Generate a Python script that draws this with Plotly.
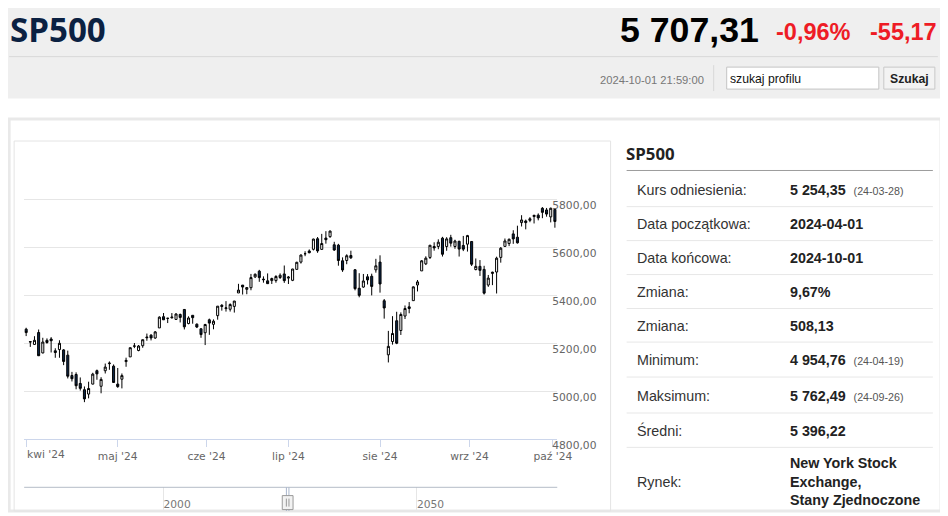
import numpy as np
import pandas as pd
import plotly.graph_objects as go

# --- dane: świece dzienne SP500 (kwi-paź 2024) ---
dates = [
    "2024-04-01", "2024-04-02", "2024-04-03", "2024-04-04", "2024-04-05", "2024-04-08", "2024-04-09",
    "2024-04-10", "2024-04-11", "2024-04-12", "2024-04-15", "2024-04-16", "2024-04-17", "2024-04-18",
    "2024-04-19", "2024-04-22", "2024-04-23", "2024-04-24", "2024-04-25", "2024-04-26", "2024-04-29",
    "2024-04-30", "2024-05-01", "2024-05-02", "2024-05-03", "2024-05-06", "2024-05-07", "2024-05-08",
    "2024-05-09", "2024-05-10", "2024-05-13", "2024-05-14", "2024-05-15", "2024-05-16", "2024-05-17",
    "2024-05-20", "2024-05-21", "2024-05-22", "2024-05-23", "2024-05-24", "2024-05-28", "2024-05-29",
    "2024-05-30", "2024-05-31", "2024-06-03", "2024-06-04", "2024-06-05", "2024-06-06", "2024-06-07",
    "2024-06-10", "2024-06-11", "2024-06-12", "2024-06-13", "2024-06-14", "2024-06-17", "2024-06-18",
    "2024-06-20", "2024-06-21", "2024-06-24", "2024-06-25", "2024-06-26", "2024-06-27", "2024-06-28",
    "2024-07-01", "2024-07-02", "2024-07-03", "2024-07-05", "2024-07-08", "2024-07-09", "2024-07-10",
    "2024-07-11", "2024-07-12", "2024-07-15", "2024-07-16", "2024-07-17", "2024-07-18", "2024-07-19",
    "2024-07-22", "2024-07-23", "2024-07-24", "2024-07-25", "2024-07-26", "2024-07-29", "2024-07-30",
    "2024-07-31", "2024-08-01", "2024-08-02", "2024-08-05", "2024-08-06", "2024-08-07", "2024-08-08",
    "2024-08-09", "2024-08-12", "2024-08-13", "2024-08-14", "2024-08-15", "2024-08-16", "2024-08-19",
    "2024-08-20", "2024-08-21", "2024-08-22", "2024-08-23", "2024-08-26", "2024-08-27", "2024-08-28",
    "2024-08-29", "2024-08-30", "2024-09-03", "2024-09-04", "2024-09-05", "2024-09-06", "2024-09-09",
    "2024-09-10", "2024-09-11", "2024-09-12", "2024-09-13", "2024-09-16", "2024-09-17", "2024-09-18",
    "2024-09-19", "2024-09-20", "2024-09-23", "2024-09-24", "2024-09-25", "2024-09-26", "2024-09-27",
    "2024-09-30", "2024-10-01 21:59:00",
]
opens = [
    5257.97, 5204.29, 5194.37, 5244.05, 5158.95, 5211.37, 5217.03, 5167.88, 5172.95, 5171.51,
    5149.67, 5064.59, 5068.97, 5031.52, 5005.44, 4987.33, 5028.85, 5084.86, 5019.88, 5084.65,
    5114.13, 5103.78, 5029.03, 5049.32, 5122.78, 5142.42, 5187.20, 5168.98, 5189.03, 5225.49,
    5233.08, 5221.10, 5263.26, 5310.07, 5303.10, 5305.35, 5298.69, 5319.28, 5340.26, 5281.45,
    5315.91, 5278.73, 5259.77, 5243.21, 5297.15, 5278.24, 5314.48, 5357.80, 5343.81, 5341.22,
    5353.00, 5409.13, 5441.93, 5424.08, 5431.11, 5476.15, 5499.99, 5466.77, 5459.58, 5460.73,
    5460.71, 5473.59, 5488.48, 5471.08, 5461.84, 5507.44, 5537.91, 5572.75, 5584.24, 5591.26,
    5635.21, 5590.76, 5638.16, 5644.09, 5610.07, 5608.56, 5543.37, 5544.54, 5565.30, 5505.84,
    5428.70, 5433.67, 5476.55, 5478.73, 5505.59, 5537.84, 5376.63, 5151.14, 5206.42, 5293.13,
    5252.57, 5312.78, 5351.18, 5376.98, 5442.51, 5501.13, 5530.50, 5557.23, 5602.88, 5603.09,
    5637.77, 5602.89, 5639.66, 5602.89, 5624.51, 5607.30, 5612.74, 5623.89, 5506.68, 5520.08,
    5507.33, 5442.07, 5490.51, 5496.42, 5557.48, 5603.34, 5615.21, 5655.51, 5641.68, 5702.63,
    5709.46, 5711.90, 5727.83, 5733.65, 5762.22, 5755.36, 5726.52, 5757.73,
]
highs = [
    5263.95, 5208.34, 5228.75, 5256.59, 5222.18, 5219.57, 5224.81, 5178.43, 5211.78, 5175.03,
    5168.43, 5079.84, 5077.96, 5056.66, 5019.02, 5038.84, 5076.12, 5089.48, 5057.75, 5114.62,
    5123.49, 5110.83, 5096.12, 5073.21, 5139.12, 5181.00, 5200.23, 5191.95, 5214.53, 5239.66,
    5237.26, 5250.37, 5311.76, 5325.49, 5305.45, 5325.32, 5324.32, 5323.18, 5341.88, 5311.65,
    5315.91, 5282.27, 5260.21, 5280.33, 5302.11, 5298.80, 5354.16, 5362.35, 5375.08, 5365.79,
    5375.95, 5447.25, 5441.93, 5432.39, 5488.50, 5490.38, 5505.53, 5478.31, 5490.66, 5472.88,
    5483.14, 5490.81, 5523.64, 5479.55, 5509.69, 5539.27, 5570.33, 5583.11, 5590.75, 5635.39,
    5642.45, 5655.56, 5666.94, 5669.67, 5622.49, 5614.05, 5557.50, 5570.36, 5585.34, 5508.04,
    5491.59, 5488.32, 5487.74, 5489.46, 5551.51, 5566.16, 5383.89, 5250.89, 5312.34, 5330.64,
    5328.03, 5356.89, 5371.20, 5436.50, 5463.22, 5546.23, 5561.98, 5608.30, 5620.51, 5632.68,
    5643.22, 5641.82, 5651.62, 5631.18, 5627.03, 5646.95, 5651.37, 5623.89, 5552.99, 5546.30,
    5522.47, 5484.20, 5497.91, 5560.41, 5600.71, 5636.27, 5636.05, 5670.81, 5689.75, 5733.57,
    5715.14, 5725.36, 5735.32, 5741.03, 5767.37, 5763.78, 5765.14, 5757.73,
]
lows = [
    5229.20, 5184.05, 5194.37, 5146.06, 5157.21, 5197.35, 5160.78, 5138.70, 5138.77, 5107.94,
    5052.47, 5039.83, 5007.25, 5001.89, 4953.56, 4969.40, 5027.96, 5047.02, 4990.58, 5073.14,
    5088.65, 5035.31, 5013.45, 5011.05, 5101.22, 5142.42, 5178.96, 5165.86, 5180.41, 5209.68,
    5211.16, 5217.98, 5263.26, 5296.19, 5283.59, 5302.40, 5297.87, 5286.01, 5256.93, 5278.39,
    5280.89, 5262.70, 5222.10, 5191.68, 5234.32, 5257.63, 5297.64, 5335.36, 5331.33, 5331.52,
    5327.25, 5409.13, 5402.51, 5403.75, 5420.40, 5471.32, 5455.56, 5452.03, 5447.59, 5446.56,
    5451.87, 5467.54, 5451.12, 5446.53, 5458.43, 5507.42, 5531.63, 5562.51, 5574.57, 5586.44,
    5576.53, 5590.44, 5614.75, 5639.02, 5584.81, 5522.81, 5497.04, 5529.04, 5550.90, 5419.98,
    5390.95, 5430.70, 5444.44, 5398.99, 5493.75, 5410.42, 5302.03, 5119.26, 5193.56, 5195.54,
    5233.85, 5300.42, 5324.37, 5376.98, 5415.45, 5501.13, 5525.50, 5550.74, 5585.50, 5591.57,
    5560.95, 5585.16, 5602.34, 5593.48, 5560.95, 5583.71, 5581.79, 5521.53, 5503.66, 5480.17,
    5402.62, 5434.49, 5441.72, 5406.96, 5535.50, 5601.65, 5604.53, 5614.05, 5615.08, 5686.42,
    5674.49, 5704.22, 5698.99, 5712.06, 5721.01, 5727.34, 5703.53, 5681.28,
]
closes = [
    5243.77, 5205.81, 5211.49, 5147.21, 5204.34, 5202.39, 5209.91, 5160.64, 5199.06, 5123.41,
    5061.82, 5051.41, 5022.21, 5011.12, 4967.23, 5010.60, 5070.55, 5071.63, 5048.42, 5099.96,
    5116.17, 5035.69, 5018.39, 5064.20, 5127.79, 5180.74, 5187.70, 5187.67, 5214.08, 5222.68,
    5221.42, 5246.68, 5308.15, 5297.10, 5303.27, 5308.13, 5321.41, 5307.01, 5267.84, 5304.72,
    5306.04, 5266.95, 5235.48, 5277.51, 5283.40, 5291.34, 5354.03, 5352.96, 5346.99, 5360.79,
    5375.32, 5421.03, 5433.74, 5431.60, 5473.23, 5487.03, 5473.17, 5464.62, 5447.87, 5469.30,
    5477.90, 5482.87, 5460.48, 5475.09, 5509.01, 5537.02, 5567.19, 5572.85, 5576.98, 5633.91,
    5584.54, 5615.35, 5631.22, 5667.20, 5588.27, 5544.59, 5505.00, 5564.41, 5555.74, 5427.13,
    5399.22, 5459.10, 5463.54, 5436.44, 5522.30, 5446.68, 5346.56, 5186.33, 5240.03, 5199.50,
    5319.31, 5344.16, 5344.39, 5434.43, 5455.21, 5543.22, 5554.25, 5608.25, 5597.12, 5620.85,
    5570.64, 5634.61, 5616.84, 5625.80, 5592.18, 5591.96, 5648.40, 5528.93, 5520.07, 5503.41,
    5408.42, 5471.05, 5495.52, 5554.13, 5595.76, 5626.02, 5633.09, 5634.58, 5618.26, 5713.64,
    5702.55, 5718.57, 5732.93, 5722.26, 5745.37, 5738.17, 5762.48, 5707.31,
]

month_starts = ["2024-04-01", "2024-05-01", "2024-06-01", "2024-07-01", "2024-08-01", "2024-09-01", "2024-10-01"]
month_labels = ["kwi '24", "maj '24", "cze '24", "lip '24", "sie '24", "wrz '24", "paź '24"]
y_ticks = [4800, 5000, 5200, 5400, 5600, 5800, 6000]
nav_years = [2000, 2050]

# nagłówek
ticker = "SP500"
last_price = "5 707,31"
change_pct = "-0,96%"
change_abs = "-55,17"
stamp = "2024-10-01 21:59:00"

# tabela po prawej
row_labels = ["Kurs odniesienia:", "Data początkowa:", "Data końcowa:", "Zmiana:", "Zmiana:",
              "Minimum:", "Maksimum:", "Średni:", "Rynek:"]
row_values = ["5 254,35", "2024-04-01", "2024-10-01", "9,67%", "508,13",
              "4 954,76", "5 762,49", "5 396,22", "New York Stock<br>Exchange,<br>Stany Zjednoczone"]
row_notes = ["(24-03-28)", "", "", "", "", "(24-04-19)", "(24-09-26)", "", ""]

W, H = 948, 516
PAD = 8                       # domyślny margines <body>
SX, SY = (W + 2 * PAD) / W, 1.0246   # cała strona jest dopasowywana do okna
ARIAL = "Liberation Sans, Arial, sans-serif"
AXF = "DejaVu Sans, Verdana, sans-serif"
FS = 1.02                     # korekta rozmiaru fontów po dopasowaniu


def fx(p):
    # piksel okna -> współrzędna paper (przycięte do figury)
    return min(max((p * SX - PAD) / W, 0.0), 1.0)


def fy(p):
    return min(max(1 - (p * SY - PAD) / H, 0.0), 1.0)


def fs(size):
    return round(size * FS, 1)


# oś porządkowa: pozycja = numer sesji, miesiące wstawione wg czasu
ts = pd.to_datetime(dates, format="ISO8601")
idx = np.arange(len(dates))
tick_pos = np.interp(pd.to_datetime(month_starts).asi8, ts.asi8, idx)
ticktext = [""] + month_labels[1:]   # pierwszą etykietę dosuwamy do prawej osobno


def year_frac(t):
    start = pd.Timestamp(year=t.year, month=1, day=1)
    return t.year + (t - start).days / (366 if t.is_leap_year else 365)


win0, win1 = year_frac(ts[0]), year_frac(ts[-1])

fig = go.Figure()
fig.add_trace(go.Candlestick(
    x=idx, open=opens, high=highs, low=lows, close=closes,
    increasing=dict(line=dict(color="#000000", width=1), fillcolor="#ffffff"),
    decreasing=dict(line=dict(color="#000000", width=1), fillcolor="#0c2647"),
    whiskerwidth=0, showlegend=False, hoverinfo="skip",
))
# niewidoczna seria dla osi nawigatora
fig.add_trace(go.Scatter(x=[win0, win1], y=[0.5, 0.5], xaxis="x2", yaxis="y2", mode="lines",
                         line=dict(width=0), showlegend=False, hoverinfo="skip"))

shapes = []


def rect(x0, y0, x1, y1, fill="rgba(0,0,0,0)", line="rgba(0,0,0,0)", lw=1, layer="above"):
    shapes.append(dict(type="rect", xref="paper", yref="paper", x0=fx(x0), x1=fx(x1), y0=fy(y0), y1=fy(y1),
                       fillcolor=fill, line=dict(color=line, width=lw), layer=layer))


def hline(x0, x1, y, color, lw=1):
    shapes.append(dict(type="line", xref="paper", yref="paper", x0=fx(x0), x1=fx(x1), y0=fy(y), y1=fy(y),
                       line=dict(color=color, width=lw)))


# nagłówek strony
rect(0, 0, 948, 98.5, fill="#efefef", layer="below")
hline(9, 937, 56.5, "#d8d8d8")
shapes.append(dict(type="line", xref="paper", yref="paper", x0=fx(713), x1=fx(713), y0=fy(65), y1=fy(91),
                   line=dict(color="#d8d8d8", width=1)))
rect(726, 67, 878, 89, fill="#ffffff", line="#c4c4c4")
rect(883, 67, 934, 89, fill="#f3f3f3", line="#c8c8c8")

# ramki
rect(9, 119, 944.5, 516, line="#e9e9e9", lw=3)
rect(14, 141, 610, 516, line="#e4e4e4")

# tabela
hline(626, 932, 170.5, "#9c9c9c")
row_sep = [206.7, 240.7, 274.7, 308.7, 342.3, 377.3, 413.3, 447.7]
for y in row_sep:
    hline(626, 932, y, "#e7e7e7")

# nawigator
hline(24, 556.7, 487.7, "#b5bcc7")
for yr in (win0, win1):
    shapes.append(dict(type="line", xref="x2", yref="y2 domain", x0=yr, x1=yr, y0=0, y1=1,
                       line=dict(color="#a9b6cc", width=1)))
mid = (win0 + win1) / 2
shapes.append(dict(type="rect", xref="x2", yref="paper", xsizemode="pixel", xanchor=mid, x0=-5.4, x1=5.4,
                   y0=fy(510), y1=fy(496), fillcolor="#f2f2f2", line=dict(color="#999999", width=1)))
for dx in (-1.3, 1.3):
    shapes.append(dict(type="line", xref="x2", yref="paper", xsizemode="pixel", xanchor=mid, x0=dx, x1=dx,
                       y0=fy(507), y1=fy(499), line=dict(color="#999999", width=1)))

ann = []


def text(x, y, s, size, color="#333333", family=ARIAL, xanchor="left", bold=False):
    if bold:
        s = f"<b>{s}</b>"
    ann.append(dict(x=fx(x), y=fy(y), xref="paper", yref="paper", text=s, showarrow=False,
                    xanchor=xanchor, yanchor="middle", align="left", borderpad=0,
                    font=dict(size=fs(size), color=color, family=family)))


text(9, 29.5, ticker, 32.5, color="#0b2142", family="Open Sans, sans-serif", bold=True)
text(759, 30, last_price, 35, color="#000000", xanchor="right", bold=True)
text(774, 32, change_pct, 23, color="#ee1c25", bold=True)
text(937, 32, change_abs, 23, color="#ee1c25", xanchor="right", bold=True)
text(704, 79.5, stamp, 11, color="#777777", xanchor="right")
text(728, 78.5, "szukaj profilu", 12, color="#111111")
text(908.5, 78.5, "Szukaj", 12, color="#222222", xanchor="center", bold=True)

text(624, 153.3, ticker, 16.5, color="#222222", family="Open Sans, sans-serif", bold=True)
row_y = [190, 224.3, 258.3, 292.3, 326, 360, 396, 431, 482]
for y, lab, val, note in zip(row_y, row_labels, row_values, row_notes):
    text(635, y, lab, 14, color="#333333")
    s = f"<b>{val}</b>"
    if note:
        s += "\u00a0\u00a0" + f"<span style='font-size:{fs(10.5)}px;color:#555555'>{note}</span>"
    text(788, y, s, 14, color="#222222")

# pierwsza etykieta osi czasu, wyrównana do lewej przy swoim znaczniku
ann.append(dict(x=tick_pos[0], xref="x", y=fy(454.5), yref="paper", text=month_labels[0], showarrow=False,
                xanchor="left", yanchor="middle", xshift=-1,
                font=dict(family=AXF, size=fs(10.5), color="#666666")))

fig.update_layout(
    width=W, height=H, autosize=False,
    margin=dict(l=0, r=0, t=0, b=0),
    paper_bgcolor="#ffffff", plot_bgcolor="rgba(0,0,0,0)",
    showlegend=False, shapes=shapes, annotations=ann,
    xaxis=dict(domain=[fx(24), fx(556.7)], range=[-0.48, 127.57], anchor="y",
               showgrid=False, zeroline=False, showline=True, linecolor="#ccd6eb", linewidth=1,
               ticks="outside", ticklen=7, tickcolor="#ccd6eb",
               tickvals=list(tick_pos), ticktext=ticktext,
               tickfont=dict(family=AXF, size=fs(10.5), color="#666666"),
               rangeslider=dict(visible=False), fixedrange=True),
    yaxis=dict(domain=[fy(439.3), fy(151.3)], range=[4800, 6000], side="right", anchor="x",
               showgrid=True, gridcolor="#e6e6e6", gridwidth=1, zeroline=False, showline=False,
               tickvals=y_ticks, ticktext=[f"{v},00" if v < 6000 else "" for v in y_ticks],
               ticks="", ticklabelstandoff=-6, ticklabelshift=6,
               tickfont=dict(family=AXF, size=fs(10.5), color="#666666"), fixedrange=True),
    xaxis2=dict(domain=[fx(24), fx(556.7)], range=[1972.5, 2077.7], anchor="y2",
                showgrid=True, gridcolor="#e6e6e6", zeroline=False, showline=False,
                tickvals=nav_years, ticktext=[str(v) for v in nav_years],
                ticklabelposition="inside right", ticks="", ticklabelstandoff=-5,
                tickfont=dict(family=AXF, size=fs(10.5), color="#777777"), fixedrange=True),
    yaxis2=dict(domain=[0, fy(487.7)], range=[0, 1], anchor="x2", visible=False, fixedrange=True),
)

fig.write_html("out.html")
